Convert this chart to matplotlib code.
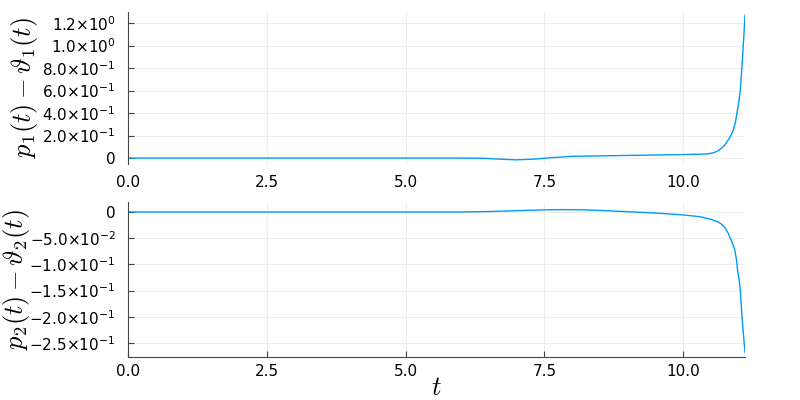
import matplotlib
matplotlib.use("Agg")
import matplotlib.pyplot as plt

# ---- data ----
t1 = [0, 1, 2, 3, 4, 5, 6, 6.4, 6.7, 7.0, 7.3, 7.6, 7.9, 8.0, 8.5, 9.0, 9.5, 10.0,
      10.3, 10.45, 10.55, 10.62, 10.7, 10.75, 10.79, 10.84, 10.88, 10.91, 10.94,
      10.98, 11.01, 11.03, 11.06, 11.09, 11.115]
v1 = [0, 0, 0, 0, 0, 0, 0, -0.002, -0.010, -0.016, -0.010, 0.002, 0.012, 0.015,
      0.019, 0.023, 0.027, 0.031, 0.034, 0.038, 0.047, 0.062, 0.09, 0.115, 0.145,
      0.18, 0.22, 0.26, 0.31, 0.43, 0.52, 0.60, 0.81, 1.05, 1.27]

t2 = [0, 1, 2, 3, 4, 5, 6, 6.5, 7.0, 7.5, 7.8, 8.2, 8.6, 9.0, 9.5, 10.0, 10.3,
      10.5, 10.64, 10.7, 10.76, 10.81, 10.85, 10.89, 10.93, 10.96, 10.98, 11.01,
      11.03, 11.06, 11.09, 11.115]
v2 = [0, 0, 0, 0, 0, 0, 0, 0.0008, 0.0025, 0.004, 0.0045, 0.004, 0.0025, 0.0005,
      -0.002, -0.0057, -0.009, -0.014, -0.0196, -0.024, -0.031, -0.040, -0.05,
      -0.060, -0.072, -0.090, -0.110, -0.130, -0.148, -0.199, -0.237, -0.268]

xticks = [0, 2.5, 5.0, 7.5, 10.0]
xticklabels = ["0.0", "2.5", "5.0", "7.5", "10.0"]

yticks1 = [0, 0.2, 0.4, 0.6, 0.8, 1.0, 1.2]
yticklabels1 = ["0", r"$2.0{\times}10^{-1}$", r"$4.0{\times}10^{-1}$",
                r"$6.0{\times}10^{-1}$", r"$8.0{\times}10^{-1}$",
                r"$1.0{\times}10^{0}$", r"$1.2{\times}10^{0}$"]

yticks2 = [0, -0.05, -0.10, -0.15, -0.20, -0.25]
yticklabels2 = ["0", r"$-5.0{\times}10^{-2}$", r"$-1.0{\times}10^{-1}$",
                r"$-1.5{\times}10^{-1}$", r"$-2.0{\times}10^{-1}$",
                r"$-2.5{\times}10^{-1}$"]

ylabel1 = r"$p_1(t) - \vartheta_1(t)$"
ylabel2 = r"$p_2(t) - \vartheta_2(t)$"
xlabel = r"$t$"

# ---- styling ----
plt.rcParams['font.family'] = ['DejaVu Sans']
plt.rcParams['mathtext.fontset'] = 'dejavusans'
line_color = '#009AFA'
spine_color = '#444444'
grid_color = '#ededed'
tick_fs = 11

fig = plt.figure(figsize=(8, 4), dpi=100)
ax1 = fig.add_axes([0.16, 0.59, 0.77125, 0.38])
ax2 = fig.add_axes([0.16, 0.1075, 0.77125, 0.3875])

def style(ax, bottom_spine):
    for s in ['top', 'right']:
        ax.spines[s].set_visible(False)
    ax.spines['left'].set_color(spine_color)
    ax.spines['bottom'].set_color(spine_color)
    ax.spines['bottom'].set_visible(bottom_spine)
    ax.grid(True, color=grid_color, linewidth=0.8)
    ax.set_axisbelow(True)
    ax.tick_params(axis='y', direction='in', length=4, color=spine_color,
                   labelsize=tick_fs, pad=9)
    ax.tick_params(axis='x', direction='in', length=4 if bottom_spine else 0,
                   color=spine_color, labelsize=tick_fs,
                   pad=5 if bottom_spine else 8)
    ax.set_xticks(xticks)
    ax.set_xticklabels(xticklabels)

ax1.plot(t1, v1, color=line_color, linewidth=1.0)
ax1.set_xlim(0, 11.115)
ax1.set_ylim(-0.053, 1.298)
style(ax1, False)
ax1.set_yticks(yticks1)
ax1.set_yticklabels(yticklabels1)
ax1.set_ylabel(ylabel1, fontsize=19, math_fontfamily='cm')
ax1.yaxis.set_label_coords(-0.143, 0.5)

ax2.plot(t2, v2, color=line_color, linewidth=1.0)
ax2.set_xlim(0, 11.115)
ax2.set_ylim(-0.2766, 0.019)
style(ax2, True)
ax2.set_yticks(yticks2)
ax2.set_yticklabels(yticklabels2)
ax2.set_ylabel(ylabel2, fontsize=19, math_fontfamily='cm')
ax2.yaxis.set_label_coords(-0.156, 0.5)
ax2.set_xlabel(xlabel, fontsize=19, math_fontfamily='cm', labelpad=-3)

fig.savefig("out.png", dpi=100)
